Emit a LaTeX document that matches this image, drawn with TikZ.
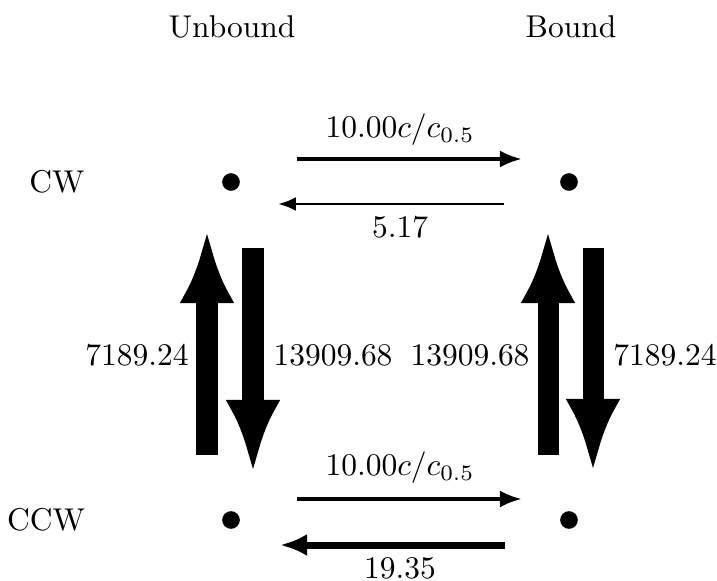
\documentclass[tikz,border=0pt]{standalone}
\usetikzlibrary{arrows.meta,calc}
\begin{document}
\begin{tikzpicture}[x=0.3175pt,y=-0.3175pt,
  dot/.style={circle,fill=black,inner sep=0pt,minimum size=5.6pt},
  lbl/.style={inner sep=0pt},
  thinA/.style={line width=1.27pt,-{Latex[length=7pt,width=5.4pt]}},
  thinB/.style={line width=0.95pt,-{Latex[length=5.7pt,width=4.45pt]}},
  midA/.style={line width=2.22pt,-{Latex[length=8.6pt,width=7pt]}},
  fatA/.style={line width=6.67pt,-{Latex[length=23.2pt,width=17.5pt]}}]
\useasboundingbox (0,0) rectangle (717,581);
\node[dot] (A) at (231,182) {};
\node[dot] (B) at (569,182) {};
\node[dot] (C) at (231,520) {};
\node[dot] (D) at (569,520) {};
\node[lbl] (hu) at (232,27) {Unbound};
\node[lbl] (hb) at (571,27) {Bound};
\node[lbl] (cw) at (57,182) {CW};
\node[lbl] (ccw) at (46,520) {CCW};
% horizontal
\draw[thinA] ($(A)+(66,-23)$) -- ($(B)+(-47,-23)$);
\draw[thinB] ($(B)+(-65,22)$) -- ($(A)+(47,22)$);
\draw[thinA] ($(C)+(66,-21)$) -- ($(D)+(-47,-21)$);
\draw[midA] ($(D)+(-64,25)$) -- ($(C)+(49,25)$);
\node[lbl] (l1) at (400,130) {$10.00c/c_{0.5}$};
\node[lbl] (l2) at (400,227) {$5.17$};
\node[lbl] (l3) at (400,468) {$10.00c/c_{0.5}$};
\node[lbl] (l4) at (400,568) {$19.35$};
% vertical
\draw[fatA] ($(C)+(-24,-65)$) -- ($(A)+(-24,48)$);
\draw[fatA] ($(A)+(22,66)$) -- ($(C)+(22,-47)$);
\draw[fatA] ($(D)+(-21,-65)$) -- ($(B)+(-21,48)$);
\draw[fatA] ($(B)+(24,66)$) -- ($(D)+(24,-48)$);
\node[lbl] (v1) at (137,355) {$7189.24$};
\node[lbl] (v2) at (333,355) {$13909.68$};
\node[lbl] (v3) at (470,355) {$13909.68$};
\node[lbl] (v4) at (665,355) {$7189.24$};
\end{tikzpicture}
\end{document}
